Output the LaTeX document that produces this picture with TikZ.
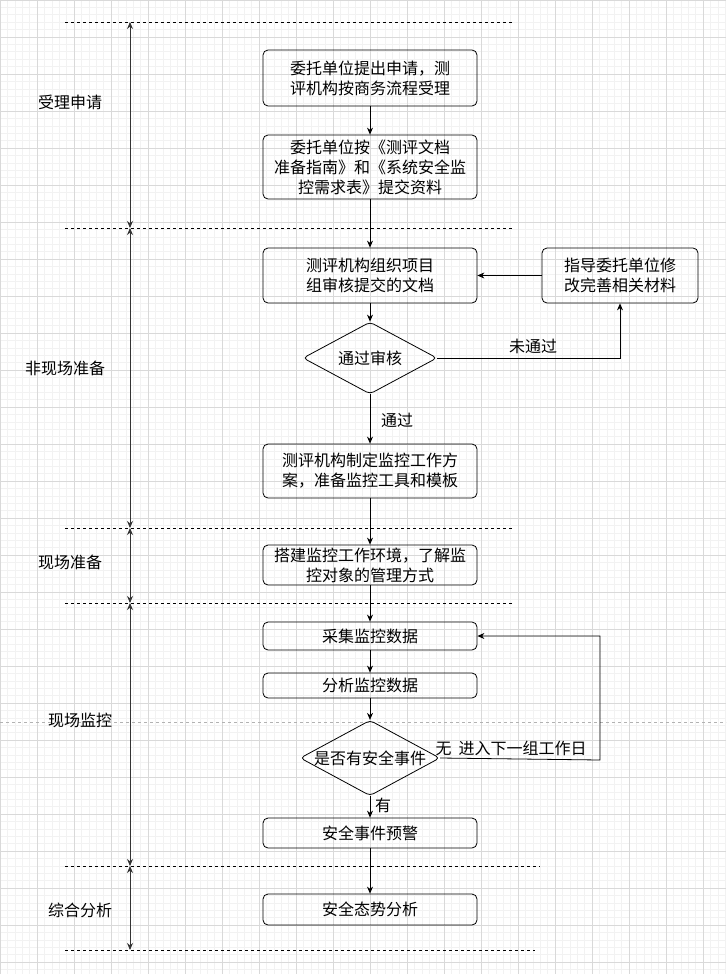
\documentclass[tikz,border=0pt]{standalone}
\usepackage{fontspec}
\setmainfont{Noto Sans CJK SC}
\usetikzlibrary{shapes.geometric,arrows.meta}
\definecolor{gridgray}{rgb}{0.85,0.85,0.85}
\definecolor{gridlight}{rgb}{0.95,0.95,0.95}

\begin{document}
\begin{tikzpicture}
  [x=1pt,y=-1pt,font=\fontsize{16}{20}\selectfont,
   box/.style={draw,line width=0.8pt,rounded corners=5pt,align=center,minimum width=214pt,inner sep=2pt},
   dec/.style={draw,line width=0.8pt,diamond,aspect=1.85,minimum width=134pt,minimum height=72pt,inner sep=0pt,rounded corners=4pt},
   lbl/.style={},
   sep/.style={dashed,line width=0.8pt},
   arr/.style={-{Stealth[length=7pt,width=6pt]},line width=0.8pt}]

  \useasboundingbox (0,0) rectangle (726,974);
  \fill[white] (0,0) rectangle (726,974);
  \foreach \i in {0,...,131} {
    \draw[gridlight,line width=0.6pt] (\i*7.4,0) -- (\i*7.4,974);
    \draw[gridlight,line width=0.6pt] (0,\i*7.4) -- (726,\i*7.4);
  }
  \foreach \i in {0,...,26} {
    \draw[gridgray,line width=0.8pt] (\i*37,0) -- (\i*37,974);
    \draw[gridgray,line width=0.8pt] (0,\i*37) -- (726,\i*37);
  }
  \draw[gray!60,dashed,line width=0.8pt] (0,722) -- (726,722);

  % phases
  \foreach \y/\z in {22/228,228/528,528/603,603/866,866/950}
    \draw[gray!40!black,line width=0.9pt,{Stealth[length=7pt,width=6pt]}-{Stealth[length=7pt,width=6pt]}] (130,\y) -- (130,\z);
  \foreach \y/\e in {22/512,228/512,528/512,603/512,866/540,950/535}
    \draw[sep] (65,\y) -- (\e,\y);
  \node[lbl] (p1) at (70,102) {受理申请};
  \node[lbl] (p2) at (65,368) {非现场准备};
  \node[lbl] (p3) at (70,562) {现场准备};
  \node[lbl] (p4) at (80,720) {现场监控};
  \node[lbl] (p5) at (80,910) {综合分析};

  \node[box,minimum height=56pt] (b1) at (370,78) {委托单位提出申请，测\\评机构按商务流程受理};
  \node[box,minimum height=64pt] (b2) at (370,167) {委托单位按《测评文档\\准备指南》和《系统安全监\\控需求表》提交资料};
  \node[box,minimum height=55pt] (b3) at (370,275.5) {测评机构组织项目\\组审核提交的文档};
  \node[box,minimum width=156pt,minimum height=55pt] (s1) at (620,275.5) {指导委托单位修\\改完善相关材料};
  \node[dec] (d1) at (370,358) {通过审核};
  \node[box,minimum height=54pt] (b4) at (370,471) {测评机构制定监控工作方\\案，准备监控工具和模板};
  \node[box,minimum height=40pt,inner sep=0pt] (b5) at (370,565) {搭建监控工作环境，了解监\\控对象的管理方式};
  \node[box,minimum height=28pt] (b6) at (370,636) {采集监控数据};
  \node[box,minimum height=25pt] (b7) at (370,685.5) {分析监控数据};
  \node[dec] (d2) at (370,758) {是否有安全事件};
  \node[box,minimum height=30pt] (b8) at (370,833) {安全事件预警};
  \node[box,minimum height=31pt] (b9) at (370,909.5) {安全态势分析};

  \foreach \from/\to in {b1/b2,b2/b3,b3/d1,d1/b4,b4/b5,b5/b6,b6/b7,b7/d2,d2/b8,b8/b9}
    \draw[arr] (\from) -- (\to);
  \draw[arr] (s1) -- (b3);
  \draw[arr] (d1.east) -- (620,358) -- (s1.south);
  \draw[arr] (d2.east) -- (600,760) -- (600,636) -- (b6.east);

  \node[lbl] (no1) at (533,346) {未通过};
  \node[lbl] (ok1) at (397,420) {通过};
  \node[lbl,anchor=west] (no2) at (432,748) {无\ \ 进入下一组工作日};
  \node[lbl] (yes2) at (383,805) {有};
\end{tikzpicture}
\end{document}
